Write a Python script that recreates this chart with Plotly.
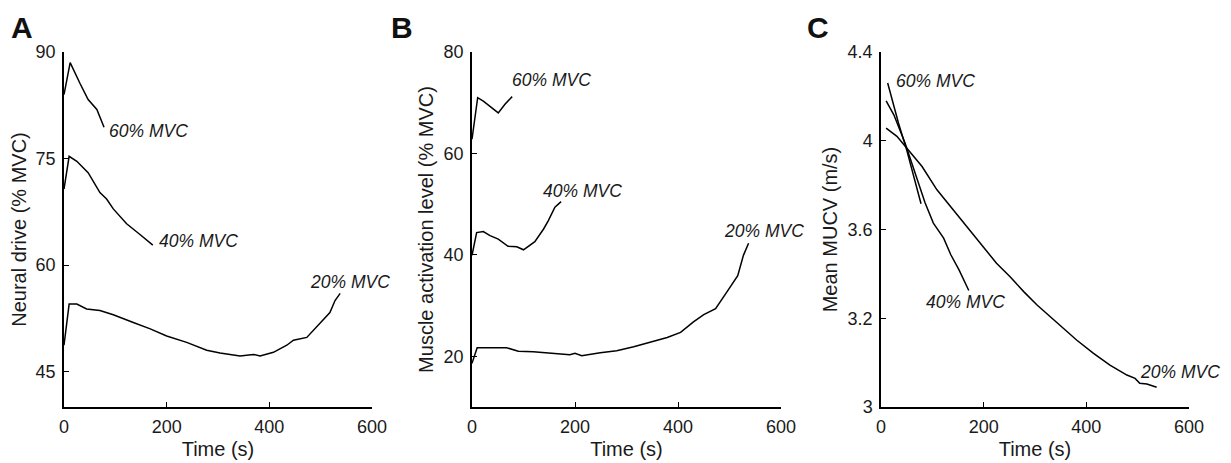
import plotly.graph_objects as go

# ---------------- data ----------------
# Panel A: Neural drive (% MVC)
a60_t = [0, 12, 31, 47, 64, 69, 78]
a60_v = [84.0, 88.5, 85.6, 83.3, 81.9, 81.0, 79.4]
a40_t = [0, 10, 25, 47, 70, 83, 96, 122, 148, 173]
a40_v = [70.7, 75.3, 74.6, 73.0, 70.2, 69.3, 67.9, 65.8, 64.3, 62.8]
a20_t = [0, 10, 25, 44, 70, 96, 135, 168, 200, 239, 278, 304, 343, 369, 382,
         408, 434, 447, 473, 486, 518, 528, 538]
a20_v = [48.7, 54.5, 54.5, 53.8, 53.6, 53.0, 51.9, 51.0, 50.0, 49.1, 48.0, 47.6,
         47.2, 47.4, 47.2, 47.7, 48.7, 49.4, 49.8, 50.8, 53.3, 55.0, 56.0]

# Panel B: Muscle activation level (% MVC)
b60_t = [0, 11, 22, 51, 64, 78]
b60_v = [62.8, 71.0, 70.3, 68.0, 69.7, 71.2]
b40_t = [0, 9, 22, 35, 51, 70, 87, 100, 122, 139, 148, 161, 173]
b40_v = [39.9, 44.4, 44.6, 43.8, 43.1, 41.7, 41.6, 41.0, 42.6, 45.1, 46.7, 49.4, 50.5]
b20_t = [0, 10, 67, 90, 119, 152, 190, 200, 213, 249, 281, 314, 346, 379, 405,
         430, 450, 473, 495, 516, 527, 537]
b20_v = [18.6, 21.7, 21.7, 21.0, 20.9, 20.6, 20.3, 20.6, 20.1, 20.7, 21.1, 21.9,
         22.8, 23.7, 24.7, 26.8, 28.2, 29.4, 32.7, 35.9, 39.9, 42.3]

# Panel C: Mean MUCV (m/s)
c60_t = [13, 34, 50, 64, 78]
c60_v = [4.260, 4.080, 3.959, 3.839, 3.716]
c40_t = [10, 25, 47, 70, 86, 102, 122, 136, 152, 171]
c40_v = [4.180, 4.117, 3.989, 3.824, 3.719, 3.629, 3.561, 3.486, 3.418, 3.325]
c20_t = [10, 31, 50, 80, 109, 141, 167, 200, 225, 251, 278, 304, 330, 356, 381,
         414, 446, 479, 495, 504, 518, 537]
c20_v = [4.057, 4.020, 3.967, 3.884, 3.779, 3.689, 3.614, 3.523, 3.448, 3.388,
         3.320, 3.260, 3.208, 3.155, 3.102, 3.042, 2.989, 2.944, 2.929, 2.907,
         2.904, 2.889]

x_ticks = [0, 200, 400, 600]
a_ticks = [45, 60, 75, 90]
b_ticks = [20, 40, 60, 80]
c_tickvals = [2.8, 3.2, 3.6, 4.0, 4.4]
c_ticktext = ["3", "3.2", "3.6", "4", "4.4"]

labels = ["60% MVC", "40% MVC", "20% MVC"]
a_lab_pos = [(83, 78.9), (182, 63.4), (476, 57.6)]
b_lab_pos = [(74, 74.4), (133, 52.6), (485, 44.8)]
c_lab_pos = [(25, 4.27), (83, 3.272), (500, 2.96)]

# ---------------- figure ----------------
FONT = "Arial, Liberation Sans, Helvetica, sans-serif"
TXT = "#1a1a1a"
OFF = 8                      # page body margin of the html page
W, H = 1231 - OFF, 463 - OFF
TOP, BOT = 52 - OFF, 407 - OFF

fig = go.Figure()
line = dict(color="black", width=1.5)
for xs, ys, ax in [(a60_t, a60_v, 1), (a40_t, a40_v, 1), (a20_t, a20_v, 1),
                   (b60_t, b60_v, 2), (b40_t, b40_v, 2), (b20_t, b20_v, 2),
                   (c60_t, c60_v, 3), (c40_t, c40_v, 3), (c20_t, c20_v, 3)]:
    suffix = "" if ax == 1 else str(ax)
    fig.add_trace(go.Scatter(x=xs, y=ys, mode="lines", line=line,
                             xaxis="x" + suffix, yaxis="y" + suffix,
                             showlegend=False, hoverinfo="skip"))

domains = [((64 - OFF) / W, (372 - OFF) / W),
           ((472 - OFF) / W, (781 - OFF) / W),
           ((881 - OFF) / W, (1189 - OFF) / W)]

common_axis = dict(showline=True, linecolor="black", linewidth=1.5,
                   ticks="inside", ticklen=5, tickwidth=1.3, tickcolor="black",
                   showgrid=False, zeroline=False, automargin=False,
                   tickfont=dict(family=FONT, size=18, color=TXT),
                   mirror=False)

layout = dict(
    width=W, height=H,
    paper_bgcolor="white", plot_bgcolor="white",
    margin=dict(l=0, r=0, t=TOP, b=H - BOT, autoexpand=False),
    font=dict(family=FONT, color=TXT),
)

ytitles = ["Neural drive (% MVC)", "Muscle activation level (% MVC)", "Mean MUCV (m/s)"]
yranges = [[40, 90], [10, 80], [2.8, 4.4]]
ytick_sets = [(a_ticks, None), (b_ticks, None), (c_tickvals, c_ticktext)]
for i in range(3):
    s = "" if i == 0 else str(i + 1)
    layout["xaxis" + s] = dict(common_axis, domain=list(domains[i]), range=[0, 600],
                               tickvals=x_ticks, anchor="y" + s, ticklabelstandoff=3,
                               title=dict(text="Time (s)", standoff=6,
                                          font=dict(family=FONT, size=20, color=TXT)))
    ya = dict(common_axis, range=yranges[i], anchor="x" + s, domain=[0, 1],
              ticklabelstandoff=3,
              title=dict(text=ytitles[i], standoff=5,
                         font=dict(family=FONT, size=20, color=TXT)))
    tv, tt = ytick_sets[i]
    ya["tickvals"] = tv
    if tt is not None:
        ya["ticktext"] = tt
    layout["yaxis" + s] = ya

fig.update_layout(**layout)

# series labels
for i, pos in enumerate([a_lab_pos, b_lab_pos, c_lab_pos]):
    s = "" if i == 0 else str(i + 1)
    for lab, (lx, ly) in zip(labels, pos):
        fig.add_annotation(x=lx, y=ly, xref="x" + s, yref="y" + s,
                           text="<i>" + lab + "</i>",
                           showarrow=False, xanchor="left", yanchor="middle",
                           font=dict(family=FONT, size=17.5, color=TXT))

# panel letters (paper y is relative to the plot area)
for letter, px in [("A", 9), ("B", 389), ("C", 805)]:
    fig.add_annotation(x=(px - OFF) / W, y=(BOT - (9 - OFF)) / (BOT - TOP),
                       xref="paper", yref="paper",
                       yanchor="top", xanchor="left", showarrow=False,
                       text="<b>" + letter + "</b>",
                       font=dict(family=FONT, size=30, color="#111"))

fig.write_html("out.html")
